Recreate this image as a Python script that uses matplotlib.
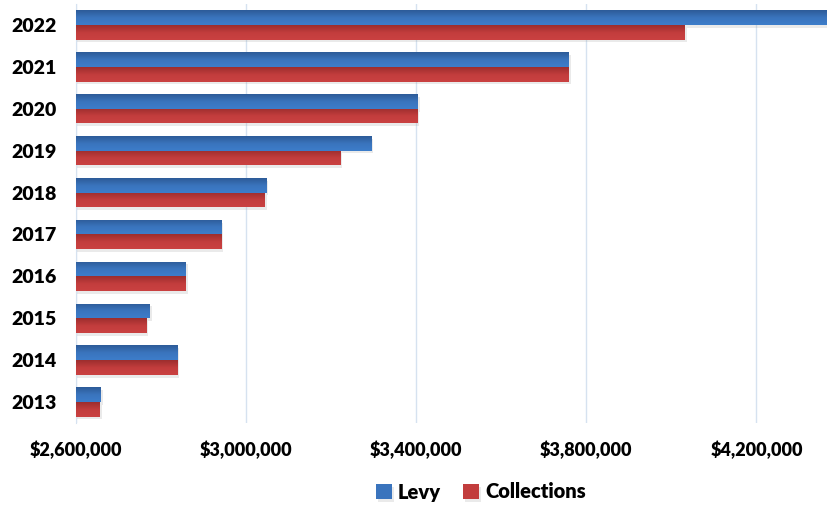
import numpy as np
import matplotlib.pyplot as plt
from matplotlib import patheffects
from matplotlib.colors import LinearSegmentedColormap
from matplotlib.ticker import FuncFormatter

# Levy and collections by year
years = ['2013', '2014', '2015', '2016', '2017', '2018', '2019', '2020', '2021', '2022']
levy = [2658000, 2838000, 2774000, 2858000, 2941000, 3047000, 3294000, 3404000, 3759000, 4390000]
collections = [2656000, 2838000, 2765000, 2858000, 2941000, 3044000, 3221000, 3402000, 3759000, 4032000]
xticks = [2600000, 3000000, 3400000, 3800000, 4200000]

plt.rcParams['font.family'] = ['Lato', 'DejaVu Sans']

fig = plt.figure(figsize=(8.27, 5.05), dpi=100)
ax = fig.add_axes([76 / 827, 82 / 505, 1 - 76 / 827, 419 / 505])

xmin, xmax = 2600000, 4366000
h = 0.35
pos = np.arange(len(years))

blue_cm = LinearSegmentedColormap.from_list('b', ['#3d7dca', '#3a74bd', '#2d5b98'])
red_cm = LinearSegmentedColormap.from_list('r', ['#ca4141', '#c23d3d', '#9c2e2e'])
grad = np.linspace(0, 1, 64).reshape(-1, 1)

# soft drop shadow under each bar
shadow = [patheffects.SimplePatchShadow(offset=(1.5, -2), shadow_rgbFace='#909090', alpha=0.18),
          patheffects.Normal()]

def gradient_bars(vals, offset, cmap, base, label):
    bars = ax.barh(pos + offset, vals, height=h, color=base, label=label, zorder=2)
    for b in bars:
        b.set_path_effects(shadow)
        y0 = b.get_y()
        im = ax.imshow(grad, cmap=cmap, aspect='auto', zorder=3,
                       extent=[xmin, min(b.get_width(), xmax), y0 + h, y0],
                       origin='upper')
        im.set_clip_path(b)
    return bars

gradient_bars(levy, h / 2, blue_cm, '#3a74bd', 'Levy')
gradient_bars(collections, -h / 2, red_cm, '#c23d3d', 'Collections')

ax.set_xlim(xmin, xmax)
ax.set_ylim(-0.5, len(years) - 0.5)
ax.set_xticks(xticks)
ax.xaxis.set_major_formatter(FuncFormatter(lambda v, p: '${:,.0f}'.format(v)))
ax.set_yticks(pos)
ax.set_yticklabels(years)

ax.grid(axis='x', color='#d6e2f0', linewidth=1, zorder=0)
ax.set_axisbelow(True)
for s in ['top', 'right', 'bottom']:
    ax.spines[s].set_visible(False)
ax.spines['left'].set_color('#d6e2f0')
ax.tick_params(axis='both', length=0, labelsize=13, colors='black')
ax.tick_params(axis='y', pad=14, labelsize=14)
ax.tick_params(axis='x', pad=13)
for t in ax.get_xticklabels() + ax.get_yticklabels():
    t.set_fontweight('heavy')

handles, labels = ax.get_legend_handles_labels()
fig.legend(handles, labels, loc='center', bbox_to_anchor=(481 / 827, 13 / 505),
           ncol=2, frameon=False, handlelength=0.8, handleheight=0.8,
           handletextpad=0.3, columnspacing=1.1,
           prop={'weight': 'heavy', 'size': 14.5})

fig.savefig('out.png', dpi=100)
